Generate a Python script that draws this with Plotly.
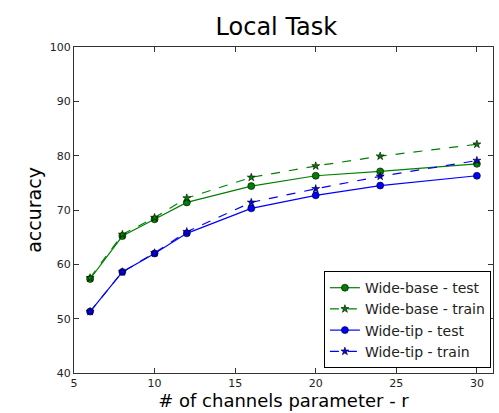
import plotly.graph_objects as go

# Channel-width parameter r
r_values = [6, 8, 10, 12, 16, 20, 24, 30]

# Accuracy (%) per configuration
wide_base_test = [57.3, 65.2, 68.3, 71.4, 74.4, 76.3, 77.1, 78.5]
wide_base_train = [57.5, 65.5, 68.6, 72.2, 76.0, 78.1, 79.9, 82.1]
wide_tip_test = [51.3, 58.6, 62.0, 65.7, 70.3, 72.7, 74.5, 76.3]
wide_tip_train = [51.3, 58.6, 62.1, 66.0, 71.4, 73.9, 76.2, 79.1]

GREEN = "#008000"
BLUE = "#0000ff"

fig = go.Figure()

def add_series(y, name, color, dashed):
    fig.add_trace(go.Scatter(
        x=r_values, y=y, name=name, mode="lines+markers",
        line=dict(color=color, width=1.2, dash="dash" if dashed else "solid"),
        marker=dict(
            symbol="star" if dashed else "circle",
            size=6 if dashed else 7,
            color=color,
            line=dict(color="black", width=0.6),
        ),
    ))

add_series(wide_base_test, "Wide-base - test", GREEN, False)
add_series(wide_base_train, "Wide-base - train", GREEN, True)
add_series(wide_tip_test, "Wide-tip - test", BLUE, False)
add_series(wide_tip_train, "Wide-tip - train", BLUE, True)

axis_common = dict(
    showgrid=False, zeroline=False,
    showline=True, linecolor="#333333", linewidth=1, mirror="allticks",
    ticks="inside", ticklen=5, tickcolor="#333333", tickwidth=1,
    tickfont=dict(family="DejaVu Sans", size=11, color="#222222"),
)

fig.update_layout(
    width=499, height=413,
    margin=dict(l=74, r=6, t=47, b=40),
    paper_bgcolor="white", plot_bgcolor="white",
    title=dict(text="Local Task", xref="paper", x=0.483, xanchor="center",
               yref="container", y=0.935, yanchor="middle",
               font=dict(family="DejaVu Sans", size=24, color="black")),
    xaxis=dict(range=[5, 31], tickvals=[5, 10, 15, 20, 25, 30],
               title=dict(text="# of channels parameter - r", standoff=5,
                          font=dict(family="DejaVu Sans", size=18, color="black")),
               **axis_common),
    yaxis=dict(range=[40, 100], tickvals=[40, 50, 60, 70, 80, 90, 100],
               title=dict(text="accuracy", standoff=3,
                          font=dict(family="DejaVu Sans", size=19, color="black")),
               **axis_common),
    legend=dict(x=0.995, xanchor="right", y=0.015, yanchor="bottom",
                bgcolor="white", bordercolor="black", borderwidth=1,
                font=dict(family="DejaVu Sans", size=14, color="#222222"),
                tracegroupgap=0, itemwidth=30),
    showlegend=True,
)

fig.write_html("out.html")
